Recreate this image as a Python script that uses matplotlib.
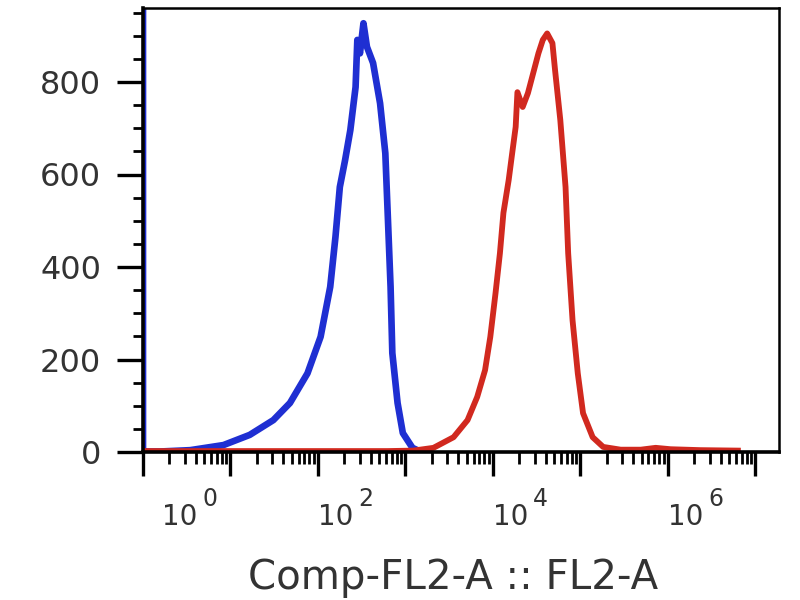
import matplotlib
matplotlib.use("Agg")
import matplotlib.pyplot as plt
import matplotlib.transforms as mtransforms
from matplotlib.ticker import FixedLocator, MultipleLocator, LogLocator, NullFormatter
import numpy as np

# histogram traces, x as log10 of intensity, y as count
blue_log10 = [0.0, 0.0, 0.02, 0.19, 0.54, 0.92, 1.22, 1.49, 1.68, 1.88, 2.03, 2.14,
              2.20, 2.25, 2.31, 2.37, 2.43, 2.45, 2.48, 2.52, 2.56, 2.63, 2.71,
              2.77, 2.80, 2.83, 2.85, 2.91, 2.97, 3.08, 3.17]
blue_count = [1000, 2, 1, 1, 4, 15, 37, 69, 106, 170, 249, 357,
              465, 573, 631, 696, 789, 891, 862, 927, 876, 841, 754,
              646, 502, 357, 214, 106, 41, 9, 1]

red_log10 = [0.02, 1.0, 2.0, 2.8, 3.09, 3.32, 3.55, 3.71, 3.82, 3.91, 3.97, 4.03,
             4.08, 4.12, 4.18, 4.22, 4.26, 4.28, 4.34, 4.40, 4.46, 4.52, 4.57,
             4.62, 4.68, 4.71, 4.77, 4.83, 4.86, 4.91, 4.97, 5.03, 5.14, 5.26,
             5.46, 5.69, 5.86, 6.03, 6.37, 6.80]
red_count = [2, 2, 2, 2, 3, 9, 32, 69, 119, 177, 249, 344,
             430, 517, 588, 646, 703, 778, 746, 776, 819, 862, 891,
             905, 884, 826, 718, 573, 430, 285, 170, 84, 32, 11,
             5, 5, 9, 6, 4, 3]

x_label_exps = [0, 2, 4, 6]
x_label_pos = [0.22, 2.0, 4.0, 6.0]
y_ticks = [0, 200, 400, 600, 800]

text_color = "#333333"

fig = plt.figure(figsize=(8, 6), dpi=100)
ax = fig.add_axes([143 / 800, 1 - 452 / 600, (779 - 143) / 800, (452 - 8) / 600])

ax.plot(10 ** np.array(blue_log10), blue_count, color="#1f2fd2", lw=4.8,
        solid_joinstyle="round")
ax.plot(10 ** np.array(red_log10), red_count, color="#d1291f", lw=4.2,
        solid_joinstyle="round")

ax.set_xscale("log")
ax.set_xlim(1, 10 ** 7.27)
ax.set_ylim(0, 960)

ax.xaxis.set_major_locator(LogLocator(base=10, numticks=20))
ax.xaxis.set_minor_locator(LogLocator(base=10, subs=np.arange(2, 10), numticks=20))
ax.xaxis.set_major_formatter(NullFormatter())
ax.xaxis.set_minor_formatter(NullFormatter())

ax.yaxis.set_major_locator(FixedLocator(y_ticks))
ax.yaxis.set_minor_locator(MultipleLocator(50))
ax.set_yticklabels([str(v) for v in y_ticks], fontsize=23, color=text_color)

ax.tick_params(axis="y", which="major", length=19, width=2.4, pad=11, color="black")
ax.tick_params(axis="y", which="minor", length=7, width=2.0, color="black")
ax.tick_params(axis="x", which="major", length=17, width=2.4, color="black")
ax.tick_params(axis="x", which="minor", length=8.5, width=2.0, color="black")

for side, w in [("left", 2.6), ("bottom", 2.6), ("top", 1.8), ("right", 1.8)]:
    ax.spines[side].set_linewidth(w)
    ax.spines[side].set_color("black")

# x tick labels: 10 with raised exponent, left aligned at the decade
trans = mtransforms.blended_transform_factory(ax.transData, ax.transAxes)
base_y = -(525 - 452) / 444
for e, p in zip(x_label_exps, x_label_pos):
    ax.text(10 ** p, base_y, "10", transform=trans, ha="left", va="baseline",
            fontsize=20, color=text_color, clip_on=False)
    ax.annotate(str(e), xy=(10 ** p, base_y), xycoords=trans,
                xytext=(29, 13.5), textcoords="offset points",
                ha="left", va="baseline", fontsize=17, color=text_color,
                annotation_clip=False)

fig.text(453 / 800, 0.018, "Comp-FL2-A :: FL2-A", ha="center", va="baseline",
         fontsize=29, color=text_color)

fig.savefig("out.png", dpi=100)
